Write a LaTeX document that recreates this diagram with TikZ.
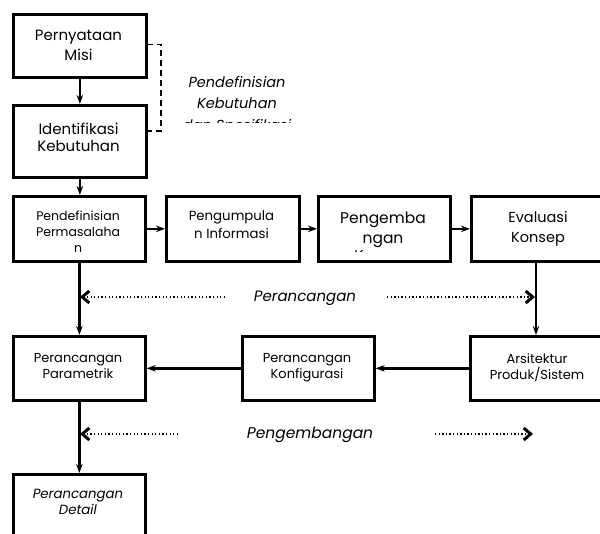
\documentclass[tikz,border=0pt]{standalone}
\usepackage{fontspec}
\setmainfont{Poppins}
\usetikzlibrary{arrows.meta}
\newcommand{\fs}[2]{\fontsize{#1}{#2}\selectfont}
\begin{document}
\begin{tikzpicture}[x=1pt,y=-1pt,
  box/.style={draw, line width=2.7pt, inner sep=0pt, anchor=north west},
  txt/.style={align=center, inner sep=0pt, anchor=north},
  arr/.style={line width=2.6pt, -{Stealth[length=9pt,width=6.5pt]}},
  dotarr/.style={line width=1.9pt, dash pattern=on 1.3pt off 2.3pt,
    -{Straight Barb[length=7pt,width=12pt,line width=3pt]}},
  brace/.style={line width=1.9pt, dash pattern=on 6pt off 4pt}]
\useasboundingbox (0,0) rectangle (600,534);
\clip (0,0) rectangle (600,534);

% process boxes
\node[box, minimum width=133pt, minimum height=63pt] (b1) at (12,13) {};
\node[box, minimum width=133pt, minimum height=72pt] (b2) at (12,104) {};
\node[box, minimum width=132pt, minimum height=65pt] (b3) at (12,195) {};
\node[box, minimum width=133pt, minimum height=65pt] (b4) at (165,195) {};
\node[box, minimum width=132pt, minimum height=65pt] (b5) at (317,195) {};
\node[box, minimum width=136pt, minimum height=65pt] (b6) at (470,195) {};
\node[box, minimum width=132pt, minimum height=64pt] (b7) at (12,335) {};
\node[box, minimum width=132pt, minimum height=64pt] (b8) at (241,335) {};
\node[box, minimum width=136pt, minimum height=64pt] (b9) at (469,335) {};
\node[box, minimum width=132pt, minimum height=70pt] (b10) at (12,473) {};

% box texts
\node[txt, font=\fs{15}{20}] (t1) at (78.5,30) {Pernyataan\\Misi};
\node[txt, font=\fs{15}{16.5}] (t2) at (78.5,123) {Identifikasi\\Kebutuhan};
\node[txt, font=\fs{12.5}{16}] (t3) at (78,210.5) {Pendefinisian\\Permasalaha\\n};
\node[txt, font=\fs{13.3}{18}] (t4) at (231.5,210) {Pengumpula\\n Informasi};
\node[txt, font=\fs{15.5}{20}] (t5) at (383,212) {Pengemba\\ngan};
\begin{scope}
  \clip (320,240) rectangle (446,251.5);
  \node[txt, font=\fs{15.5}{20}] (t5b) at (383,250.5) {Konsep};
\end{scope}
\node[txt, font=\fs{14.5}{20}] (t6) at (538,211.5) {Evaluasi\\Konsep};
\node[txt, font=\fs{13}{16}] (t7) at (78,353) {Perancangan\\Parametrik};
\node[txt, font=\fs{13}{16}] (t8) at (307,353) {Perancangan\\Konfigurasi};
\node[txt, font=\fs{13}{16}] (t9) at (537,353) {Arsitektur\\Produk/Sistem};
\node[txt, font=\fs{13.3}{16}\itshape] (t10) at (78,489.5) {Perancangan\\Detail};

% side label of the first phase, clipped by its frame
\begin{scope}
  \clip (170,60) rectangle (300,122.5);
  \node[txt, font=\fs{14.5}{21.5}\itshape] (lk) at (237,76) {Pendefinisian\\Kebutuhan\\dan Spesifikasi};
\end{scope}

% phase labels
\node[inner sep=0pt, font=\fs{15}{16}\itshape] (lp1) at (305,298) {Perancangan};
\node[inner sep=0pt, font=\fs{15.5}{16}\itshape] (lp2) at (310,435) {Pengembangan};

% flow connectors
\draw[arr] (b1.south) -- (b2.north);
\draw[arr] (b2.south) -- (b2.south |- b3.north);
\draw[arr] (b3.east) -- (b4.west);
\draw[arr] (b4.east) -- (b5.west);
\draw[arr] (b5.east) -- (b6.west);
\draw[arr] (536,260) -- (536,335);
\draw[arr] (b9.west) -- (b8.east);
\draw[arr] (b8.west) -- (b7.east);
\draw[arr] (b3.south) -- (b7.north);
\draw[arr] (b7.south) -- (b10.north);

% dashed bracket
\coordinate (k0) at (147,44.5);
\coordinate (k1) at (161,44.5);
\coordinate (k2) at (161,131);
\coordinate (k3) at (148,131);
\draw[brace] (k0) -- (k1) -- (k2) -- (k3);

% dotted phase arrows
\coordinate (d1a) at (225,297);
\coordinate (d1b) at (80,297);
\coordinate (d2a) at (387,297);
\coordinate (d2b) at (535,297);
\coordinate (d3a) at (178,434);
\coordinate (d3b) at (80,434);
\coordinate (d4a) at (435,434);
\coordinate (d4b) at (533,434);
\draw[dotarr] (d1a) -- (d1b);
\draw[dotarr] (d2a) -- (d2b);
\draw[dotarr] (d3a) -- (d3b);
\draw[dotarr] (d4a) -- (d4b);
\end{tikzpicture}
\end{document}
